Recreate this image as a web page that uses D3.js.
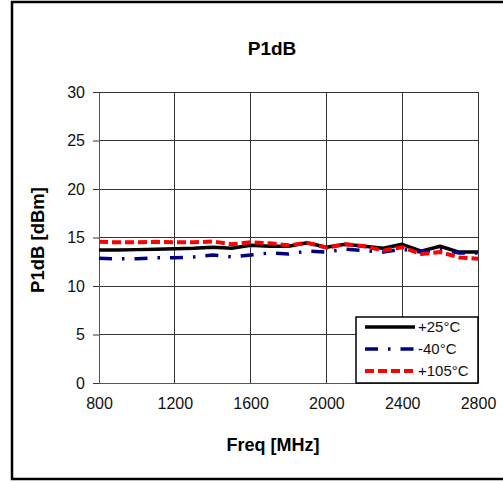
<!DOCTYPE html>
<html>
<head>
<meta charset="utf-8">
<script src="https://cdn.jsdelivr.net/npm/d3@7"></script>
<style>
  body { margin: 0; background: #fff; }
  svg { font-family: "Liberation Sans", Arial, sans-serif; }
</style>
</head>
<body>
<div id="chart"></div>
<script>
var freqs = [800, 900, 1000, 1100, 1200, 1300, 1400, 1500, 1600, 1700, 1800,
             1900, 2000, 2100, 2200, 2300, 2400, 2500, 2600, 2700, 2800];
var t25  = [13.7, 13.7, 13.75, 13.8, 13.85, 13.9, 14.0, 13.9, 14.2, 14.1, 14.1,
            14.45, 14.0, 14.3, 14.1, 13.9, 14.3, 13.6, 14.1, 13.5, 13.5];
var tm40 = [12.85, 12.8, 12.8, 12.9, 12.9, 13.0, 13.2, 13.0, 13.2, 13.4, 13.3,
            13.6, 13.5, 13.8, 13.65, 13.5, 13.8, 13.5, 13.8, 13.4, 13.4];
var t105 = [14.55, 14.5, 14.5, 14.55, 14.5, 14.5, 14.6, 14.3, 14.5, 14.4, 14.2,
            14.45, 13.95, 14.3, 14.1, 13.65, 14.0, 13.3, 13.5, 12.95, 12.8];
var xTicks = [800, 1200, 1600, 2000, 2400, 2800];
var yTicks = [0, 5, 10, 15, 20, 25, 30];

var series = [
  {name: "+25\u00b0C", values: t25, color: "#000", width: 3.5, dash: null},
  {name: "-40\u00b0C", values: tm40, color: "#000080", width: 3.5, dash: "13,10,2.5,10"},
  {name: "+105\u00b0C", values: t105, color: "#ff0000", width: 4, dash: "9,4"}
];

var width = 503, height = 482;
var margin = {top: 92, right: 25, bottom: 99, left: 99};
var chartW = width - margin.left - margin.right,
    chartH = height - margin.top - margin.bottom;

var svg = d3.select('#chart').append('svg')
    .attr('width', width)
    .attr('height', height);

// outer frame
svg.append('rect')
    .attr('x', 12).attr('y', 2)
    .attr('width', 500).attr('height', 477)
    .attr('fill', 'none')
    .attr('stroke', '#000')
    .attr('stroke-width', 2.5);

var x = d3.scaleLinear().domain([800, 2800]).range([0, chartW]);
var y = d3.scaleLinear().domain([0, 30]).range([chartH, 0]);

var g = svg.append('g')
    .attr('transform', 'translate(' + margin.left + ',' + margin.top + ')');

// grid
g.selectAll('.hgrid').data(yTicks).enter().append('line')
    .attr('x1', 0).attr('x2', chartW)
    .attr('y1', function(d) { return y(d); })
    .attr('y2', function(d) { return y(d); })
    .attr('stroke', '#333').attr('stroke-width', 1)
    .attr('shape-rendering', 'crispEdges');
g.selectAll('.vgrid').data(xTicks).enter().append('line')
    .attr('x1', function(d) { return x(d); })
    .attr('x2', function(d) { return x(d); })
    .attr('y1', 0).attr('y2', chartH)
    .attr('stroke', '#333').attr('stroke-width', 1)
    .attr('shape-rendering', 'crispEdges');

// axes
var yAxis = g.append('g')
    .call(d3.axisLeft(y).tickValues(yTicks).tickSize(6).tickPadding(8));
var xAxis = g.append('g')
    .attr('transform', 'translate(0,' + chartH + ')')
    .call(d3.axisBottom(x).tickValues(xTicks).tickSize(0).tickPadding(15)
          .tickFormat(d3.format('d')));
[xAxis, yAxis].forEach(function(a) {
  a.select('.domain').attr('stroke', '#555');
  a.selectAll('line').attr('stroke', '#333');
  a.selectAll('text')
      .style('font-family', '"Liberation Sans", Arial, sans-serif')
      .style('font-size', '16px')
      .attr('fill', '#111');
});
xAxis.select('.domain').remove();
g.append('line')
    .attr('x1', 0).attr('x2', chartW).attr('y1', chartH).attr('y2', chartH)
    .attr('stroke', '#555').attr('shape-rendering', 'crispEdges');

// lines
var line = d3.line()
    .x(function(d, i) { return x(freqs[i]); })
    .y(function(d) { return y(d); });

g.selectAll('.series').data(series).enter().append('path')
    .attr('class', 'series')
    .attr('d', function(d) { return line(d.values); })
    .attr('fill', 'none')
    .attr('stroke', function(d) { return d.color; })
    .attr('stroke-width', function(d) { return d.width; })
    .attr('stroke-dasharray', function(d) { return d.dash; })
    .attr('stroke-linejoin', 'round');

// legend
var lg = g.append('g')
    .attr('transform', 'translate(' + (chartW - 122) + ',' + (chartH - 66) + ')');
lg.append('rect')
    .attr('width', 122).attr('height', 66)
    .attr('fill', '#fff')
    .attr('stroke', '#000').attr('stroke-width', 1.5);
var items = lg.selectAll('.item').data(series).enter().append('g')
    .attr('transform', function(d, i) { return 'translate(0,' + (10 + i * 22) + ')'; });
items.append('line')
    .attr('x1', 9).attr('x2', 59)
    .attr('stroke', function(d) { return d.color; })
    .attr('stroke-width', function(d) { return d.width; })
    .attr('stroke-dasharray', function(d) { return d.dash; });
items.append('text')
    .attr('x', 62).attr('dy', '0.36em')
    .style('font-size', '15px')
    .attr('fill', '#111')
    .text(function(d) { return d.name; });

// titles
svg.append('text')
    .attr('x', 272).attr('y', 55)
    .attr('text-anchor', 'middle')
    .style('font-size', '19px').style('font-weight', 'bold')
    .text('P1dB');
svg.append('text')
    .attr('x', 273).attr('y', 451)
    .attr('text-anchor', 'middle')
    .style('font-size', '18px').style('font-weight', 'bold')
    .text('Freq [MHz]');
svg.append('text')
    .attr('transform', 'translate(44,240) rotate(-90)')
    .attr('text-anchor', 'middle')
    .style('font-size', '18.5px').style('font-weight', 'bold')
    .text('P1dB [dBm]');
</script>
</body>
</html>
